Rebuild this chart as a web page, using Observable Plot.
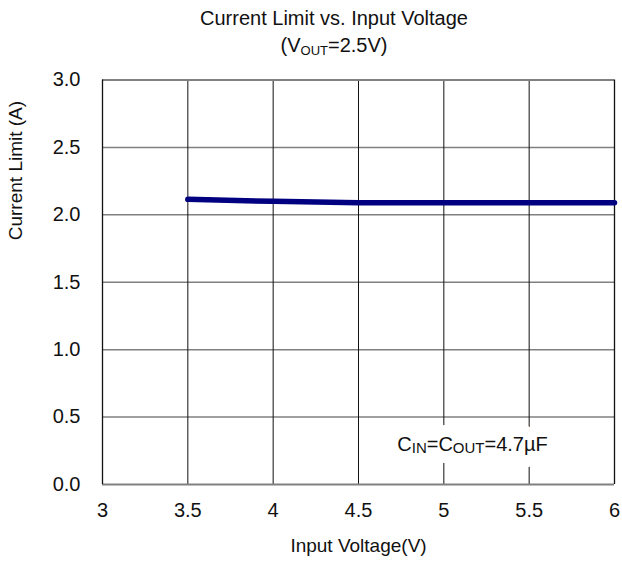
<!DOCTYPE html>
<html>
<head>
<meta charset="utf-8">
<script src="https://cdn.jsdelivr.net/npm/d3@7"></script>
<script src="https://cdn.jsdelivr.net/npm/@observablehq/plot@0.6"></script>
<style>
  html, body { margin: 0; padding: 0; background: #fff; }
  #wrap { width: 622px; height: 567px; position: relative; font-family: "Liberation Sans", Arial, sans-serif; }
  #title { height: 60px; box-sizing: border-box; padding-left: 46px; padding-top: 5px; text-align: center; color: #111; font-size: 20px; line-height: 27px; }
  #title sub { font-size: 13px; vertical-align: -3px; line-height: 0; }
  svg { display: block; }
</style>
</head>
<body>
<div id="wrap">
  <div id="title">
    <div>Current Limit vs. Input Voltage</div>
    <div>(V<sub>OUT</sub>=2.5V)</div>
  </div>
  <div id="chart"></div>
</div>
<script>
// Data
const inputVoltage = [3.5, 4.0, 4.5, 5.0, 5.5, 6.0];
const currentLimit = [2.115, 2.100, 2.090, 2.090, 2.090, 2.090];
const xTicks = [3, 3.5, 4, 4.5, 5, 5.5, 6];
const yTicks = [0, 0.5, 1.0, 1.5, 2.0, 2.5, 3.0];
const xLabel = "Input Voltage(V)";
const yLabel = "Current Limit (A)";
const annotation = ["CIN=COUT=4.7µF"];

const data = inputVoltage.map((v, i) => ({v, a: currentLimit[i]}));
const innerX = xTicks.slice(1, -1);
const innerY = yTicks.slice(1, -1);
const annoOpts = {frameAnchor: "bottom-right", dx: -142, dy: -34, textAnchor: "middle", fontSize: 20};

const chart = Plot.plot({
  width: 622,
  height: 507,
  marginTop: 19.5,
  marginLeft: 102,
  marginRight: 8,
  marginBottom: 83,
  style: {fontFamily: "'Liberation Sans', Arial, sans-serif", fontSize: "20px", color: "#111", background: "#fff", overflow: "visible"},
  x: {domain: [3, 6], ticks: xTicks, tickSize: 0, tickPadding: 18, tickFormat: d => String(d), label: null},
  y: {domain: [0, 3], ticks: yTicks, tickSize: 0, tickPadding: 22, tickFormat: d3.format(".1f"), label: null},
  marks: [
    Plot.ruleY(innerY, {stroke: "#808080", strokeWidth: 1.5}),
    Plot.ruleX(innerX, {stroke: "#111", strokeWidth: 1}),
    Plot.ruleY([yTicks[0], yTicks[yTicks.length - 1]], {stroke: "#808080", strokeWidth: 2}),
    Plot.ruleX([xTicks[0], xTicks[xTicks.length - 1]], {stroke: "#111", strokeWidth: 1.3}),
    Plot.text(annotation, {...annoOpts, fill: "white", stroke: "white", strokeWidth: 24, strokeLinejoin: "round"}),
    Plot.text(annotation, {...annoOpts, fill: "#111"}),
    Plot.line(data, {x: "v", y: "a", stroke: "#000080", strokeWidth: 5.5, strokeLinecap: "round"}),
    Plot.text([yLabel], {frameAnchor: "left", rotate: -90, dx: -87, dy: -42, fontSize: 19, fill: "#111"}),
    Plot.text([xLabel], {frameAnchor: "bottom", dy: 67, fontSize: 19, fill: "#111"})
  ]
});
document.getElementById("chart").appendChild(chart);

// Subscript styling for the annotation text
d3.select(chart).selectAll("text").filter(function() { return this.textContent === annotation[0]; }).each(function() {
  const t = d3.select(this);
  t.text(null);
  const parts = [["C", 20, 0], ["IN", 15, 2], ["=C", 20, -2], ["OUT", 15, 2], ["=4.7µF", 20, -2]];
  parts.forEach(([s, fs, dy]) => {
    t.append("tspan").attr("font-size", fs).attr("dy", dy).text(s);
  });
});
</script>
</body>
</html>
